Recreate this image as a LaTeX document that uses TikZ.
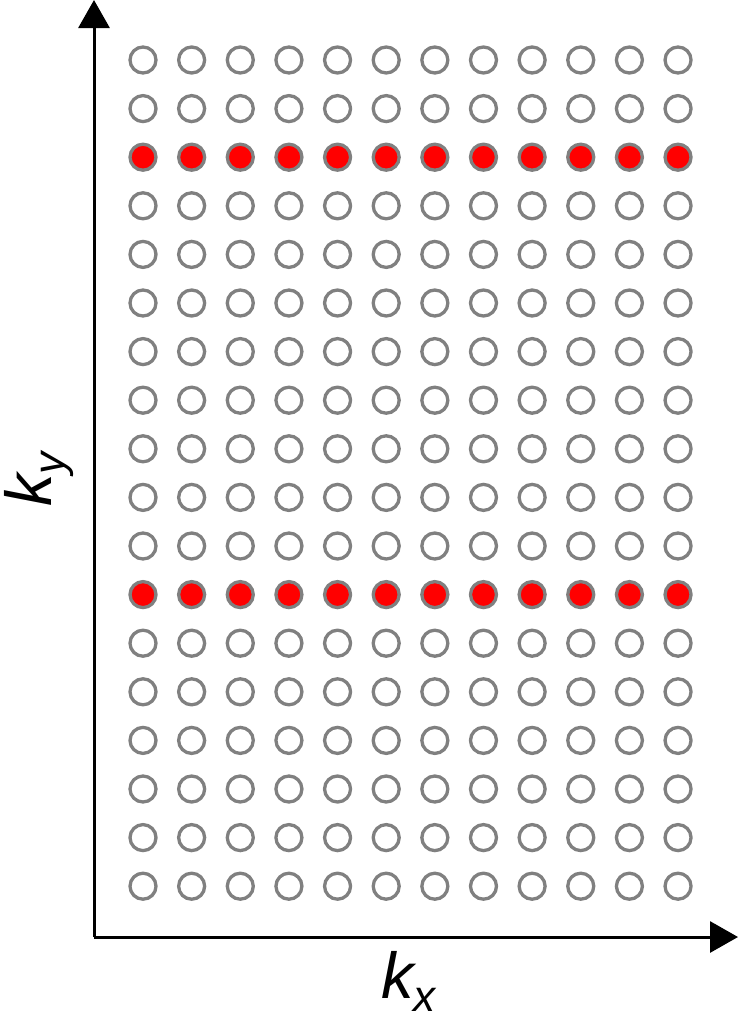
\documentclass[tikz,border=0pt]{standalone}
\usepackage{fontspec}
\setmainfont{Liberation Sans}
\usetikzlibrary{arrows.meta}
\definecolor{dotgray}{RGB}{128,128,128}
\definecolor{dotred}{RGB}{255,0,0}
\tikzset{
  dot/.style={circle,draw=dotgray,line width=3.3pt,minimum size=26pt,inner sep=0pt,fill=white},
  reddot/.style={dot,fill=dotred},
  axis/.style={line width=3pt,-{Triangle[length=28pt,width=31pt]}},
  axlabel/.style={font=\fontsize{65}{65}\selectfont\itshape,inner sep=0pt}
}
\begin{document}
\begin{tikzpicture}[x=1pt,y=-1pt]
\useasboundingbox (0,0) rectangle (738,1020);
\coordinate (o) at (94,937);
\coordinate (ytop) at (94,0);
\coordinate (xend) at (738,937);
\draw[axis] (o) -- (ytop);
\draw[axis] (o) -- (xend);
\foreach \r in {0,...,17}{
  \foreach \c in {0,...,11}{
    \pgfmathsetmacro{\px}{143+\c*48.64}
    \pgfmathsetmacro{\py}{60+\r*48.6}
    \ifnum\r=2
      \node[reddot] (c-\r-\c) at (\px,\py) {};
    \else\ifnum\r=11
      \node[reddot] (c-\r-\c) at (\px,\py) {};
    \else
      \node[dot] (c-\r-\c) at (\px,\py) {};
    \fi\fi
  }
}
\node[axlabel,anchor=base west] (kx) at (381,998) {k\raisebox{-0.2em}{\fontsize{44}{44}\selectfont x}};
\node[axlabel,anchor=base west,rotate=90] (ky) at (51,507) {k\raisebox{-0.2em}{\fontsize{44}{44}\selectfont y}};
\end{tikzpicture}
\end{document}
